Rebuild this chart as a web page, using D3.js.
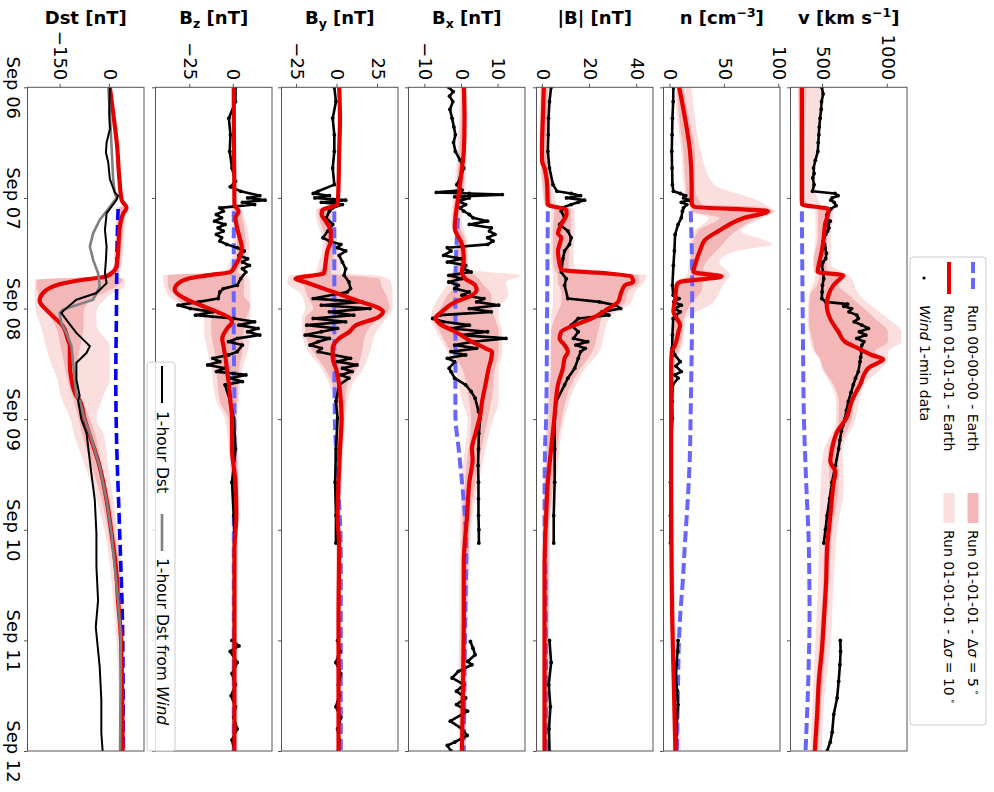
<!DOCTYPE html>
<html><head><meta charset="utf-8">
<script src="https://cdn.jsdelivr.net/npm/d3@7"></script>
<style>
body{margin:0;background:#fff;}
svg text{font-family:"DejaVu Sans",sans-serif;}
</style></head><body>
<svg id="chart" width="994" height="792"></svg>
<script>
// ---------- DATA (t = days since 2017-09-06 00:00 UTC) ----------
const dateTicks = [0,1,2,3,4,5,6];

// v [km/s]
const vRun = [[0,336],[0.5,336],[1.0,336],[1.06,338],[1.10,541],[1.12,541],[1.24,515],[1.36,505],[1.48,490],[1.67,459],[1.70,656],[1.73,631],[1.79,580],[1.88,541],[1.97,528],[2.09,554],[2.21,618],[2.30,669],[2.36,772],[2.42,874],[2.46,964],[2.49,926],[2.54,849],[2.69,785],[2.84,720],[2.99,680],[3.11,610],[3.27,569],[3.38,556],[3.48,595],[3.57,582],[3.87,556],[4.17,531],[4.47,523],[4.77,508],[5.07,492],[5.37,467],[5.67,454],[6.0,436]];
const vRef = [[1.12,336],[1.5,338],[2.0,342],[2.5,346],[2.96,351],[3.57,369],[4.17,390],[4.77,395],[5.37,385],[6.0,364]];
const vWind = [[0,490],[0.06,500],[0.13,488],[0.2,485],[0.28,477],[0.36,470],[0.43,467],[0.5,462],[0.58,459],[0.66,440],[0.73,426],[0.78,430],[0.82,420],[0.88,430],[0.94,418],[0.96,592],[0.98,615],[1.0,570],[1.02,560],[1.04,585],[1.07,600],[1.10,560],[1.12,545],[1.15,530],[1.18,528],[1.21,555],[1.24,540],[1.27,545],[1.30,535],[1.33,520],[1.36,505],[1.39,500],[1.42,512],[1.45,515],[1.50,525],[1.55,520],[1.58,500],[1.61,490],[1.67,500],[1.73,505],[1.79,495],[1.85,492],[1.91,490],[1.94,520],[1.96,690],[1.98,660],[2.0,720],[2.03,700],[2.06,760],[2.09,772],[2.12,740],[2.15,800],[2.18,850],[2.21,780],[2.24,830],[2.27,760],[2.30,815],[2.33,800],[2.36,790],[2.39,797],[2.44,790],[2.48,785],[2.57,772],[2.63,750],[2.69,733],[2.76,715],[2.84,695],[2.92,680],[2.99,670],[3.05,655],[3.11,640],[3.19,630],[3.27,620],[3.42,595],[3.57,569],[3.72,550],[3.87,531],[4.0,518],[4.12,505],[5.0,633],[5.1,635],[5.22,630],[5.37,620],[5.52,608],[5.67,582],[5.83,570],[5.92,555],[6.0,531]];
const vBand5 = [[0,310,374],[0.5,315,360],[1.0,318,360],[1.06,320,390],[1.10,460,560],[1.36,460,530],[1.55,430,520],[1.67,430,540],[1.70,470,680],[1.79,450,620],[1.88,400,700],[2.09,390,900],[2.21,400,1000],[2.30,420,1000],[2.39,440,900],[2.46,480,980],[2.54,500,850],[2.69,580,780],[2.84,620,740],[3.0,620,720],[3.3,540,620],[3.6,550,620],[4.0,510,570],[4.5,500,545],[5.0,470,520],[5.5,440,490],[6.0,420,460]];
const vBand10 = [[0,305,503],[0.3,310,470],[0.6,315,440],[0.9,315,440],[1.06,320,480],[1.10,440,580],[1.36,440,560],[1.6,420,560],[1.70,440,700],[1.88,390,780],[2.09,380,1000],[2.21,390,1105],[2.30,400,1105],[2.39,430,1000],[2.46,470,1000],[2.54,490,950],[2.69,560,820],[2.84,600,780],[3.0,600,750],[3.3,500,650],[3.6,480,660],[4.0,470,610],[4.5,460,580],[5.0,440,560],[5.5,420,510],[6.0,400,490]];

// n [cm^-3]
const nRun = [[0,8],[0.28,13.4],[0.58,18],[0.88,19.5],[1.05,19.5],[1.08,22],[1.12,89.6],[1.18,68],[1.30,44],[1.38,31.7],[1.48,27],[1.61,22.5],[1.67,21],[1.71,47],[1.76,8.8],[1.79,5.8],[1.91,4.3],[2.03,2.7],[2.09,5.8],[2.15,8.8],[2.21,7.3],[2.33,4.3],[2.39,1.2],[2.54,0.6],[3.0,0.6],[3.57,0.6],[4.17,0.9],[4.77,1.5],[5.37,3],[6.0,4.6]];
const nRef = [[1.12,18.6],[1.79,20],[2.39,19.5],[2.99,18.5],[3.27,18],[3.57,16.8],[3.87,15],[4.17,13],[4.47,11.3],[4.77,9],[5.07,7.6],[5.37,7],[6.0,6]];
const nWind = [[0,2.7],[0.13,2.5],[0.28,1.8],[0.43,1.5],[0.58,1.2],[0.73,1.5],[0.88,1.8],[0.94,2.7],[0.96,9],[0.98,14],[1.0,12],[1.02,17],[1.04,10],[1.06,15],[1.09,12],[1.12,11],[1.18,10],[1.24,7],[1.33,4.3],[1.48,3.6],[1.61,2.7],[1.79,1.8],[1.88,2.5],[1.91,8],[1.94,3],[1.97,10],[2.0,4],[2.03,9],[2.06,5],[2.09,2.5],[2.24,1.8],[2.36,1.5],[2.42,4],[2.48,9],[2.52,5],[2.57,10],[2.60,4],[2.63,7],[2.69,2],[2.84,1.5],[2.99,1.8],[3.27,0.3],[3.57,0],[3.87,0],[4.12,0],[5.0,7],[5.1,6.5],[5.22,5.5],[5.34,5],[5.45,6],[5.58,7],[5.7,6],[5.85,5.5],[6.0,5]];
const nBand5 = [[0,5.8,11.9],[0.28,8,17],[0.58,11.9,22.6],[0.88,14,22.6],[1.0,15,25],[1.06,18,30],[1.08,20,80],[1.12,20,94],[1.18,45,80],[1.30,25,60],[1.45,20,45],[1.55,19,35],[1.65,19,30],[1.70,20,50],[1.76,5,30],[1.85,4,28],[1.94,3,20],[2.1,3,12],[2.3,2,10],[2.5,0,4],[3.0,0,2],[4.0,0,2.5],[5.0,1.5,4],[6.0,3,6]];
const nBand10 = [[0,4.3,19.5],[0.28,6,22.6],[0.58,10,28],[0.88,12,40],[0.97,14,65],[1.02,15,80],[1.08,18,90],[1.12,18,96],[1.18,35,85],[1.30,22,65],[1.42,18,94],[1.48,18,60],[1.58,17,45],[1.70,15,55],[1.76,4,50],[1.85,3,45],[1.94,2,40],[2.1,2,14],[2.3,1,12],[2.5,0,6],[3.0,0,3],[4.0,0,3.5],[5.0,1,5],[6.0,2,10]];

// |B| [nT]
const bRun = [[0,0.4],[0.28,0],[0.58,-0.4],[0.67,-0.3],[0.73,0.7],[0.88,1.8],[1.06,2.1],[1.11,10],[1.15,10],[1.24,7.8],[1.32,6.4],[1.36,7.8],[1.42,7.1],[1.48,6.4],[1.55,6.7],[1.65,7.8],[1.68,26],[1.71,37.6],[1.76,38.3],[1.79,34.8],[1.85,33.3],[1.94,31.9],[2.0,27.7],[2.09,20.6],[2.15,13.5],[2.21,7.8],[2.27,7.1],[2.33,9.2],[2.39,10.6],[2.45,9.2],[2.54,8.5],[2.69,6.4],[2.84,5.5],[2.96,5],[3.27,3.5],[3.57,2.1],[3.87,1.4],[4.32,0.7],[5.07,0.7],[6.0,0.7]];
const bRef = [[1.12,2.1],[2.0,1.8],[2.99,1.4],[3.27,0.9],[3.87,0.7],[4.5,1.2],[6.0,1.4]];
const bWind = [[0,3.5],[0.13,2.8],[0.28,2.4],[0.43,2.3],[0.58,2.1],[0.73,2.8],[0.88,4.3],[0.94,6],[0.96,12],[0.98,16],[1.0,10],[1.02,17.7],[1.04,15],[1.06,12],[1.09,8],[1.12,7.8],[1.18,9.2],[1.24,7.1],[1.30,10.6],[1.36,12],[1.42,11.3],[1.48,9.2],[1.55,8.5],[1.67,7.8],[1.73,9.9],[1.79,9.2],[1.91,10.6],[1.94,24],[1.97,31],[2.0,33],[2.03,25],[2.06,28],[2.09,15],[2.15,12],[2.21,15],[2.27,13],[2.30,19],[2.33,14],[2.36,18],[2.39,16],[2.45,15],[2.54,13.5],[2.63,10.6],[2.69,9.2],[2.84,5.7],[2.99,5],[3.27,5],[3.57,5],[3.87,4.6],[4.12,4.6],[5.0,2.8],[5.2,3.5],[5.4,2.5],[5.6,3.2],[5.8,2.6],[6.0,2.8]];
const bBand5 = [[0,-0.7,2.1],[0.5,-1.2,1.5],[0.88,0,3],[1.06,1,4],[1.10,5,12],[1.30,4.3,12],[1.55,4.3,11],[1.65,5,11],[1.70,6.4,40.4],[1.76,6.4,41],[1.85,7.8,36],[1.94,7.8,35],[2.09,5,25],[2.21,3.5,23.4],[2.39,3.5,21],[2.54,3.5,16],[2.69,3,12],[3.0,2.5,8],[3.5,1,5],[4.0,0,2.5],[6.0,0,2]];
const bBand10 = [[0,-1.4,3.5],[0.5,-1.4,2.5],[0.88,-0.5,4],[1.06,0.5,6],[1.10,3.5,13.5],[1.30,3.5,13.5],[1.55,3.5,13],[1.65,4,14],[1.70,4.3,44],[1.76,4.3,43],[1.85,4.3,39],[1.94,4.3,37.6],[2.09,3.5,28],[2.21,3.5,26.2],[2.39,3,24],[2.54,3,18],[2.69,2.5,14],[3.0,1.5,9],[3.5,0.5,6],[4.0,0,3],[6.0,0,2.5]];

// Bx [nT]
const bxRun = [[0,0.5],[0.28,0.7],[0.58,0.5],[0.73,0],[0.97,-0.9],[1.18,-1.8],[1.27,-2],[1.42,0],[1.55,0.5],[1.67,0],[1.73,0.9],[1.79,3.6],[1.83,4],[1.88,2.7],[1.94,-1.8],[2.03,-5.5],[2.09,-7.3],[2.15,-5.5],[2.21,-1.8],[2.30,2.7],[2.36,6.4],[2.39,8.2],[2.45,8],[2.54,7.3],[2.69,6.4],[2.84,5.5],[2.96,5],[3.14,3.6],[3.27,2.7],[3.36,2.9],[3.57,2],[3.87,1.4],[4.29,0.5],[4.77,0.5],[5.37,0.3],[6.0,0]];
const bxRef = [[1.18,-1.1],[1.79,-1.8],[2.39,-1.8],[2.96,-1.8],[3.27,-0.9],[3.57,0],[3.93,0.9],[4.17,1.2],[4.77,0.9],[6.0,0.5]];
const bxWind = [[0,-3.6],[0.04,-2.4],[0.08,-3.4],[0.13,-2.5],[0.2,-3.3],[0.28,-2.7],[0.36,-2.2],[0.43,-1.8],[0.5,-2.3],[0.58,-1.8],[0.66,-0.5],[0.73,0.5],[0.82,-0.5],[0.88,-1.4],[0.93,0],[0.95,-7],[0.96,2],[0.97,11],[0.99,-2],[1.0,2],[1.03,-1],[1.06,1],[1.09,-0.5],[1.12,0.5],[1.15,2],[1.18,3],[1.21,7],[1.24,2],[1.27,8],[1.30,7.5],[1.33,9],[1.36,7],[1.39,8.5],[1.42,7],[1.45,-4],[1.48,-3],[1.52,-5],[1.55,0],[1.58,-4],[1.61,1],[1.64,0.5],[1.67,2.5],[1.70,-3.6],[1.73,0],[1.76,-3.6],[1.79,-1],[1.82,-2],[1.85,2],[1.88,0],[1.91,6],[1.94,4],[1.97,10],[2.0,2],[2.03,8],[2.06,-6],[2.09,-8],[2.12,-5],[2.15,2],[2.18,-3],[2.21,7],[2.24,0],[2.27,12],[2.30,3],[2.33,-2],[2.36,4],[2.39,-3],[2.42,1],[2.45,-4],[2.48,-2],[2.54,-3.5],[2.57,-3],[2.63,-2],[2.69,1],[2.75,2.5],[2.81,3.6],[2.93,4.5],[2.99,5],[3.13,4.6],[3.27,4.5],[3.42,4.4],[3.57,4.5],[3.72,4.5],[3.87,4.5],[4.0,4.6],[4.12,4.6],[5.01,2.3],[5.07,3],[5.13,3.6],[5.19,1.5],[5.22,2.7],[5.28,-1],[5.34,-2.7],[5.4,0.5],[5.46,-1.5],[5.52,1],[5.58,-1.5],[5.64,1.5],[5.73,-3.2],[5.8,0],[5.86,1.4],[5.92,-2],[5.95,-4],[6.0,-3]];
const bxBand5 = [[0,0,1],[0.9,-1.5,0.5],[1.2,-2.5,-1],[1.4,-1,1],[1.65,-1,1.5],[1.70,-3.6,3.6],[1.79,-2,6],[1.88,-4,8],[2.0,-6,8],[2.09,-7.5,9],[2.21,-6,10],[2.39,-3,10],[2.54,0,9],[2.84,2,8],[3.0,2.5,7],[3.5,1,4],[4.0,0,2],[6.0,-0.5,0.5]];
const bxBand10 = [[0,-0.5,1.5],[0.9,-2,1],[1.2,-3,0],[1.4,-1.5,1.5],[1.65,-2,2],[1.70,-4,15.9],[1.76,-4,12],[1.88,-6,12.7],[2.0,-8,10],[2.09,-8.5,10],[2.21,-7,11],[2.39,-4,11],[2.54,-2,10],[2.84,0,10],[3.0,1.5,8.5],[3.5,0,5],[4.0,-0.5,2.5],[6.0,-1,1]];

// By [nT]
const byRun = [[0,1],[0.28,1.5],[0.58,1],[0.88,0.6],[1.06,0],[1.11,-9.4],[1.15,-9.8],[1.21,-7.3],[1.30,-4.2],[1.39,-4.2],[1.48,-6.3],[1.58,-7.3],[1.68,-8.3],[1.73,-26],[1.76,-20],[1.82,-8.6],[1.88,3],[1.94,14.5],[2.0,26],[2.03,28],[2.08,25],[2.15,11.5],[2.21,7.3],[2.27,1],[2.36,-3],[2.45,-3],[2.54,-1],[2.69,1],[2.84,2],[2.99,2.5],[3.27,1.5],[3.57,0.6],[3.87,0],[4.17,1],[4.77,0.6],[6.0,0.6]];
const byRef = [[1.12,-2],[2.0,-2],[2.99,-1.7],[3.5,0],[4.2,2],[6.0,2]];
const byWind = [[0,-2],[0.13,-1],[0.28,-3],[0.43,-2],[0.58,-2],[0.73,-3],[0.88,-2],[0.94,-12],[0.96,-15],[0.98,-5],[1.0,-14],[1.02,5],[1.04,-10],[1.06,3],[1.09,-3],[1.12,-5],[1.18,-7],[1.24,-3],[1.30,-6],[1.36,-9],[1.39,-5],[1.42,2],[1.45,0],[1.48,5],[1.52,1],[1.58,3],[1.64,5],[1.70,4],[1.76,7],[1.82,8],[1.85,6],[1.91,-15],[1.94,15],[1.97,-10],[2.0,20],[2.03,-5],[2.06,10],[2.09,-15],[2.12,5],[2.15,-19],[2.18,0],[2.21,-10],[2.24,-20],[2.27,-5],[2.30,-12],[2.33,-17],[2.36,-10],[2.39,-12],[2.45,8],[2.48,0],[2.51,12],[2.54,3],[2.57,9],[2.60,2],[2.63,7],[2.69,1],[2.84,-1],[2.99,0],[3.27,-1],[3.57,-1.5],[3.87,-1],[4.12,-1],[5.0,0],[5.1,1.5],[5.2,-1],[5.3,2],[5.4,0.5],[5.5,1],[5.6,-1],[5.7,2],[5.8,0],[5.9,1],[6.0,0.5]];
const byBand5 = [[1.06,-1,1],[1.11,-12,-5],[1.2,-11,-4],[1.4,-7,-2],[1.6,-9,-3],[1.68,-12,-4],[1.73,-26,26],[1.79,-21,27],[1.88,-19,30],[2.0,-15,32],[2.09,-20,25],[2.21,-20,18],[2.39,-15,15],[2.54,-8,12],[2.69,-3,6],[3.0,0,4],[4.0,-0.5,1.5],[6.0,0,1]];
const byBand10 = [[1.06,-2,2],[1.11,-13.5,-3],[1.2,-13,-2],[1.4,-9,0],[1.6,-12,2],[1.68,-14,2],[1.70,-30,25],[1.76,-31,33],[1.88,-22,34],[2.0,-20,34],[2.09,-22,30],[2.21,-22,24],[2.39,-18,20],[2.54,-10,16],[2.69,-5,9],[3.0,-1,5],[4.0,-1,2],[6.0,-0.5,1.5]];

// Bz [nT]
const bzRun = [[0,0],[1.06,0.4],[1.12,2.8],[1.18,1],[1.27,1.9],[1.36,3.4],[1.45,4.7],[1.52,3.8],[1.61,1],[1.67,-1.9],[1.70,-15],[1.73,-26.5],[1.79,-33],[1.83,-34],[1.91,-28],[1.97,-19],[2.03,-9.5],[2.09,-1.9],[2.12,-1],[2.18,-3.8],[2.27,-6.6],[2.33,-6],[2.45,-4.7],[2.57,-3.8],[2.69,-2.8],[2.84,-1.9],[2.99,-1],[3.27,-1],[3.57,1],[3.87,1.5],[4.17,0.4],[6.0,0.4]];
const bzRef = [[1.12,0],[2.09,0],[3.0,0.4],[4.2,0],[6.0,0]];
const bzWind = [[0,1],[0.13,1],[0.28,-2.8],[0.43,-1.9],[0.58,-2.3],[0.73,-1],[0.85,1],[0.9,-2],[0.94,4],[0.98,15],[1.0,8],[1.02,18],[1.04,5],[1.06,12],[1.09,-8],[1.12,-6],[1.15,-10],[1.18,-7],[1.21,-11],[1.24,-5],[1.27,-9],[1.30,-6],[1.33,-10],[1.36,-7],[1.39,-8],[1.42,-4],[1.45,2],[1.48,6],[1.52,3],[1.55,8],[1.58,5],[1.61,9],[1.64,5],[1.67,7],[1.73,4],[1.79,2],[1.82,-6],[1.85,-8],[1.91,-9],[1.94,-20],[1.97,-32],[2.0,-25],[2.03,-12],[2.06,-22],[2.09,0],[2.12,12],[2.15,3],[2.18,14],[2.21,8],[2.24,15],[2.27,2],[2.30,-3],[2.33,5],[2.39,2],[2.42,-3],[2.45,-12],[2.48,-8],[2.51,-15],[2.54,-5],[2.57,-10],[2.60,7],[2.63,-2],[2.66,5],[2.69,-5],[2.84,-2],[2.99,0],[3.27,1],[3.57,-1],[3.87,0],[4.12,0.5],[5.0,-1],[5.05,3],[5.1,-2],[5.2,2],[5.3,-1],[5.4,1],[5.5,-1.5],[5.6,1],[5.7,0],[5.8,2],[5.9,-1],[6.0,0.5]];
const bzBand5 = [[1.06,-1,2],[1.12,0,4],[1.45,2,7],[1.61,-1,4],[1.67,-4,2],[1.70,-37.9,5.7],[1.79,-38,6],[1.88,-34,5.7],[1.97,-28,9.5],[2.09,-13,7],[2.21,-13,5.7],[2.39,-11,5],[2.54,-10,3],[2.84,-8,2],[3.0,-3,0.5],[3.5,-1,2.5],[4.0,-0.5,2],[6.0,-0.5,1]];
const bzBand10 = [[1.06,-2,3],[1.12,-1,5],[1.45,0,9],[1.61,-3,6],[1.67,-6,4],[1.70,-40.7,8],[1.79,-40,9.5],[1.88,-37.9,9.5],[1.97,-30,9.5],[2.09,-17,9.5],[2.21,-17,9.5],[2.39,-15,8],[2.54,-13,5],[2.84,-10,3],[3.0,-5,2],[3.5,-2,3],[4.0,-1,2.5],[6.0,-1,1.5]];

// Dst [nT]
const dstRun = [[0,0],[0.23,10],[0.53,22],[0.83,29],[1.02,36],[1.09,51],[1.14,41],[1.29,29],[1.44,26],[1.62,20],[1.71,-10],[1.74,-82],[1.78,-153],[1.86,-204],[1.93,-214],[2.04,-184],[2.16,-143],[2.28,-128],[2.34,-122],[2.49,-122],[2.64,-117],[2.79,-102],[2.83,-92],[3.0,-77],[3.13,-63],[3.43,-31],[3.73,-10],[4.03,5],[4.33,18],[4.64,25],[4.94,33],[5.24,36],[6.0,39]];
const dstRef = [[1.10,25],[1.44,22],[2.04,20],[2.64,18],[3.13,20],[4.03,30],[4.94,39],[6.0,41]];
const dstObs = [[0,0],[0.23,-2],[0.38,0],[0.5,-10],[0.59,-12],[0.68,-5],[0.83,0],[0.95,15],[0.98,25],[1.02,20],[1.08,5],[1.14,-10],[1.29,-15],[1.44,-10],[1.56,-12],[1.68,-15],[1.77,-10],[1.86,-41],[1.92,-102],[2.01,-138],[2.04,-148],[2.10,-133],[2.22,-102],[2.34,-61],[2.40,-71],[2.49,-102],[2.64,-102],[2.79,-92],[2.83,-97],[3.0,-87],[3.13,-71],[3.43,-59],[3.73,-46],[4.03,-41],[4.33,-41],[4.64,-36],[4.88,-43],[4.94,-41],[5.24,-31],[5.54,-26],[5.84,-26],[6.0,-22]];
const dstWind = [[0,-5],[0.23,0],[0.53,5],[0.83,10],[0.95,15],[1.0,20],[1.08,0],[1.20,-31],[1.32,-51],[1.44,-61],[1.56,-51],[1.68,-36],[1.80,-31],[1.92,-51],[2.01,-143],[2.04,-153],[2.13,-148],[2.22,-133],[2.34,-117],[2.49,-112],[2.64,-107],[2.79,-102],[2.83,-92],[3.0,-77],[3.13,-61],[3.43,-31],[3.73,-10],[4.03,5],[4.33,15],[4.64,25],[4.94,33],[5.24,33],[6.0,31]];
const dstBand5 = [[1.08,30,51],[1.14,25,46],[1.44,20,36],[1.62,15,30],[1.71,-30,25],[1.74,-222,40],[1.80,-224,20],[1.86,-219,-20],[1.93,-215,-60],[2.04,-190,-80],[2.16,-165,-80],[2.34,-150,-90],[2.49,-140,-100],[2.64,-130,-105],[2.83,-110,-85],[3.0,-95,-60],[3.13,-85,-45],[3.43,-55,-25],[3.73,-25,0],[4.03,-5,15],[4.33,10,28],[4.64,20,32],[5.0,28,38],[6.0,35,42]];
const dstBand10 = [[1.08,25,56],[1.14,20,50],[1.44,15,42],[1.62,10,36],[1.71,-40,30],[1.74,-229,46],[1.80,-229,45],[1.86,-229,10],[1.93,-229,-20],[2.04,-225,-41],[2.16,-210,-40],[2.34,-195,0],[2.49,-180,0],[2.64,-160,0],[2.79,-150,-20],[3.0,-120,-40],[3.13,-110,-20],[3.43,-75,-5],[3.73,-40,10],[4.03,-15,25],[4.33,0,35],[4.64,10,40],[5.0,20,42],[6.0,30,45]];

// ---------- LAYOUT / STYLE ----------
const W = 994, H = 792;
const X0 = 87.3, X1 = 751, PH = 116.5;
const RED = '#e60000', BLUE = '#6666ff', DARK = '#f4b7b7', LIGHT = '#fbdfdf';
const base = Date.UTC(2017, 8, 6);
const toDate = t => new Date(base + t * 864e5);

const svg = d3.select('#chart');
svg.append('rect').attr('width', W).attr('height', H).attr('fill', '#fff');
const x = d3.scaleUtc().domain([toDate(0), toDate(6)]).range([X0, X1]);
// whole figure drawn landscape, then rotated 90 deg clockwise
const g = svg.append('g').attr('transform', `translate(${W},0) rotate(90)`);

const panels = [
  {key:'v', right:907, domain:[248,1148], ticks:[500,1000], run:vRun, ref:vRef, wind:vWind, b5:vBand5, b10:vBand10,
   title:[['v [km s'],['−1','sup'],[']','back']]},
  {key:'n', right:780, domain:[-6.4,100.7], ticks:[0,50,100], run:nRun, ref:nRef, wind:nWind, b5:nBand5, b10:nBand10,
   title:[['n [cm'],['−3','sup'],[']','back']]},
  {key:'b', right:653, domain:[-2.7,46.7], ticks:[0,20,40], run:bRun, ref:bRef, wind:bWind, b5:bBand5, b10:bBand10,
   title:[['|B| [nT]']]},
  {key:'bx', right:525, domain:[-14.6,17.2], ticks:[-10,0,10], run:bxRun, ref:bxRef, wind:bxWind, b5:bxBand5, b10:bxBand10,
   title:[['B'],['x','sub'],[' [nT]','backsub']]},
  {key:'by', right:398, domain:[-34.6,37.3], ticks:[-25,0,25], run:byRun, ref:byRef, wind:byWind, b5:byBand5, b10:byBand10,
   title:[['B'],['y','sub'],[' [nT]','backsub']]},
  {key:'bz', right:272, domain:[-45,22], ticks:[-25,0], run:bzRun, ref:bzRef, wind:bzWind, b5:bzBand5, b10:bzBand10,
   title:[['B'],['z','sub'],[' [nT]','backsub']]},
  {key:'dst', right:144, domain:[-251,104], ticks:[-150,0], run:dstRun, ref:dstRef, b5:dstBand5, b10:dstBand10,
   obs:dstObs, obsWind:dstWind, title:[['Dst [nT]']]}
];

const fmtNum = d => d < 0 ? '−' + Math.abs(d) : String(d);
const fmtDate = d3.utcFormat('%b %d');

function segments(arr) {
  const out = []; let cur = [];
  arr.forEach((d, i) => {
    if (i > 0 && d[0] - arr[i-1][0] > 0.5) { out.push(cur); cur = []; }
    cur.push(d);
  });
  if (cur.length) out.push(cur);
  return out;
}

panels.forEach(p => {
  const top = W - p.right, bottom = top + PH;
  const y = d3.scaleLinear().domain(p.domain).range([bottom, top]);
  const pg = g.append('g').attr('class', 'panel-' + p.key);
  const cid = 'clip-' + p.key;
  pg.append('clipPath').attr('id', cid).append('rect')
    .attr('x', X0).attr('y', top).attr('width', X1 - X0).attr('height', PH);
  const dg = pg.append('g').attr('clip-path', `url(#${cid})`);
  const px = d => x(toDate(d[0]));
  const area = d3.area().x(px).y0(d => y(d[1])).y1(d => y(d[2])).curve(d3.curveMonotoneX);
  const line = d3.line().x(px).y(d => y(d[1])).curve(d3.curveMonotoneX);
  const lineLin = d3.line().x(px).y(d => y(d[1]));

  dg.append('path').attr('d', area(p.b10)).attr('fill', LIGHT);
  dg.append('path').attr('d', area(p.b5)).attr('fill', DARK);

  const isDst = p.key === 'dst';
  dg.append('path').attr('d', line(p.ref)).attr('fill', 'none')
    .attr('stroke', isDst ? '#0000ff' : BLUE).attr('stroke-width', isDst ? 3.6 : 4)
    .attr('stroke-dasharray', '11,5');

  if (p.wind) {
    segments(p.wind).forEach(seg => {
      dg.append('path').attr('d', lineLin(seg)).attr('fill', 'none')
        .attr('stroke', '#000').attr('stroke-width', 2.6).attr('stroke-linejoin', 'round');
    });
    dg.selectAll('circle.w').data(p.wind).join('circle').attr('class', 'w')
      .attr('cx', px).attr('cy', d => y(d[1])).attr('r', 1.9).attr('fill', '#000');
  }

  dg.append('path').attr('d', line(p.run)).attr('fill', 'none')
    .attr('stroke', RED).attr('stroke-width', 4.2).attr('stroke-linejoin', 'round');

  if (isDst) {
    dg.append('path').attr('d', lineLin(p.obsWind)).attr('fill', 'none')
      .attr('stroke', '#808080').attr('stroke-width', 2.6);
    dg.append('path').attr('d', lineLin(p.obs)).attr('fill', 'none')
      .attr('stroke', '#000').attr('stroke-width', 2);
  }

  // value axis (original left -> final top)
  const ya = pg.append('g').attr('transform', `translate(${X0},0)`)
    .call(d3.axisLeft(y).tickValues(p.ticks).tickSize(3.5).tickPadding(3.5).tickFormat(fmtNum));
  ya.select('.domain').remove();
  ya.selectAll('line').attr('stroke', '#555');
  ya.selectAll('text').attr('font-size', 18).attr('fill', '#000').attr('font-family', 'DejaVu Sans');

  // time axis (original bottom -> final left)
  const xa = pg.append('g').attr('transform', `translate(0,${bottom})`)
    .call(d3.axisBottom(x).tickValues(dateTicks.map(toDate)).tickSize(3.5).tickPadding(4)
      .tickFormat(isDst ? fmtDate : () => ''));
  xa.select('.domain').remove();
  xa.selectAll('line').attr('stroke', '#555');
  xa.selectAll('text').attr('font-size', 18).attr('fill', '#000').attr('font-family', 'DejaVu Sans');

  pg.append('rect').attr('x', X0).attr('y', top).attr('width', X1 - X0).attr('height', PH)
    .attr('fill', 'none').attr('stroke', '#555').attr('stroke-width', 1);

  // title (final horizontal, above panel)
  const tt = svg.append('text').attr('x', p.right - PH / 2).attr('y', 24)
    .attr('text-anchor', 'middle').attr('font-size', 18).attr('font-weight', 'bold');
  p.title.forEach(([s, k]) => {
    const ts = tt.append('tspan').text(s);
    if (k === 'sup') ts.attr('font-size', 12.5).attr('dy', -7);
    if (k === 'sub') ts.attr('font-size', 12.5).attr('dy', 4);
    if (k === 'back') ts.attr('dy', 7);
    if (k === 'backsub') ts.attr('dy', -4);
  });
});

// ---------- main legend ----------
const lg = g.append('g');
lg.append('rect').attr('x', 257).attr('y', 8).attr('width', 468).attr('height', 76).attr('rx', 3)
  .attr('fill', '#fff').attr('fill-opacity', 0.8).attr('stroke', '#ccc');
const LF = 14;
lg.append('line').attr('x1', 262).attr('x2', 294).attr('y1', 21).attr('y2', 21)
  .attr('stroke', BLUE).attr('stroke-width', 4).attr('stroke-dasharray', '11,5');
lg.append('text').attr('x', 305).attr('y', 21).attr('dy', '0.35em').attr('font-size', LF).text('Run 00-00-00 - Earth');
lg.append('line').attr('x1', 262).attr('x2', 294).attr('y1', 45).attr('y2', 45)
  .attr('stroke', RED).attr('stroke-width', 4);
lg.append('text').attr('x', 305).attr('y', 45).attr('dy', '0.35em').attr('font-size', LF).text('Run 01-01-01 - Earth');
lg.append('circle').attr('cx', 278).attr('cy', 70).attr('r', 1.6).attr('fill', '#000');
const wt = lg.append('text').attr('x', 305).attr('y', 69).attr('dy', '0.35em').attr('font-size', LF);
wt.append('tspan').attr('font-style', 'italic').text('Wind');
wt.append('tspan').text(' 1-min data');
[[21, DARK, '5'], [45, LIGHT, '10']].forEach(([yy, c, deg]) => {
  lg.append('rect').attr('x', 493).attr('y', yy - 5.5).attr('width', 30).attr('height', 11).attr('fill', c);
  const t = lg.append('text').attr('x', 530).attr('y', yy).attr('dy', '0.35em').attr('font-size', LF);
  t.append('tspan').text('Run 01-01-01 - Δ');
  t.append('tspan').attr('font-style', 'italic').text('σ');
  t.append('tspan').text(' = ' + deg);
  t.append('tspan').attr('font-size', 9).attr('dy', -6).text(' ∘');
});

// ---------- Dst legend ----------
const dl = g.append('g');
dl.append('rect').attr('x', 362).attr('y', 819).attr('width', 389).attr('height', 28).attr('rx', 3)
  .attr('fill', '#fff').attr('fill-opacity', 0.8).attr('stroke', '#ccc');
dl.append('line').attr('x1', 366).attr('x2', 403).attr('y1', 832).attr('y2', 832).attr('stroke', '#000').attr('stroke-width', 2);
dl.append('text').attr('x', 411).attr('y', 832).attr('dy', '0.35em').attr('font-size', 15.5).text('1-hour Dst');
dl.append('line').attr('x1', 514).attr('x2', 551).attr('y1', 832).attr('y2', 832).attr('stroke', '#808080').attr('stroke-width', 2.6);
const dt = dl.append('text').attr('x', 558).attr('y', 832).attr('dy', '0.35em').attr('font-size', 15.5);
dt.append('tspan').text('1-hour Dst from ');
dt.append('tspan').attr('font-style', 'italic').text('Wind');
</script></body></html>
